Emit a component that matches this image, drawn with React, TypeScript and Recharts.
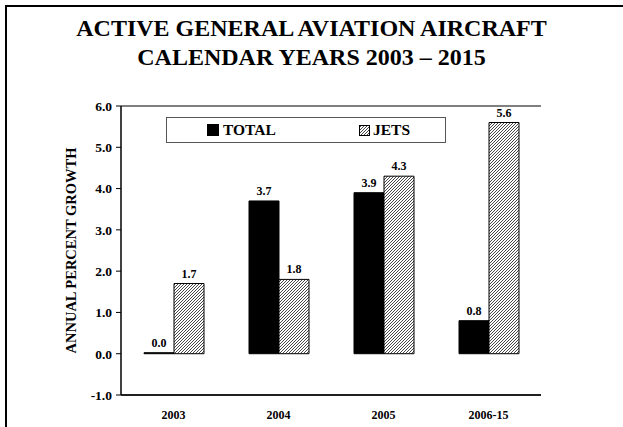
import React from 'react';
import { BarChart, Bar, XAxis, YAxis, CartesianGrid, LabelList } from 'recharts';

const categories = ['2003', '2004', '2005', '2006-15'];
const totalValues = [0.0, 3.7, 3.9, 0.8];
const jetsValues = [1.7, 1.8, 4.3, 5.6];
const yTicks = [-1, 0, 1, 2, 3, 4, 5, 6];
const seriesNames = ['TOTAL', 'JETS'];
const titleLines = ['ACTIVE GENERAL AVIATION AIRCRAFT', 'CALENDAR YEARS 2003 \u2013 2015'];
const yAxisTitle = 'ANNUAL PERCENT GROWTH';

const data = categories.map((c, i) => ({ name: c, total: totalValues[i], jets: jetsValues[i] }));

const FONT = '"Liberation Serif", "Times New Roman", serif';

const YLabel = (props: any) => {
  const vb = props.viewBox || {};
  const cx = 71;
  const cy = (vb.y || 0) + (vb.height || 0) / 2;
  return (
    <text
      x={cx}
      y={cy}
      transform={`rotate(-90, ${cx}, ${cy})`}
      textAnchor="middle"
      dominantBaseline="central"
      fontFamily={FONT}
      fontWeight="bold"
      fontSize={14.5}
      fill="#000"
    >
      {yAxisTitle}
    </text>
  );
};

const HatchDefs = ({ id }: { id: string }) => (
  <defs>
    <pattern id={id} patternUnits="userSpaceOnUse" width="3" height="3">
      <rect width="3" height="3" fill="#fff" />
      <path d="M-1,1 l2,-2 M0,3 l3,-3 M2,4 l2,-2" stroke="#333" strokeWidth="0.9" />
    </pattern>
  </defs>
);

const ValueLabel = (props: any) => {
  const { x, y, width, value } = props;
  if (value === undefined || value === null) return null;
  return (
    <text
      x={x + width / 2}
      y={y - 6}
      textAnchor="middle"
      fontFamily={FONT}
      fontWeight="bold"
      fontSize={12}
      fill="#000"
    >
      {Number(value).toFixed(1)}
    </text>
  );
};

export default function App() {
  return (
    <div
      style={{
        position: 'absolute',
        left: 0,
        top: 0,
        width: 623,
        height: 427,
        background: '#fff',
        overflow: 'hidden',
        fontFamily: FONT,
      }}
    >
      <div
        style={{
          position: 'absolute',
          left: 5,
          top: 5,
          width: 640,
          height: 440,
          borderLeft: '2px solid #000',
          borderTop: '2px solid #000',
        }}
      />
      <div
        style={{
          position: 'absolute',
          left: 0,
          top: 14,
          width: 623,
          textAlign: 'center',
          fontWeight: 'bold',
          fontSize: 24,
          lineHeight: '29px',
          color: '#000',
        }}
      >
        {titleLines.map((t) => (
          <div key={t}>{t}</div>
        ))}
      </div>
      <div style={{ position: 'absolute', left: 0, top: 0 }}>
        <BarChart
          width={623}
          height={427}
          data={data}
          margin={{ top: 106, right: 82, left: 61, bottom: 7 }}
          barGap={0}
          barSize={30}
        >
          <HatchDefs id="hatchJets" />
          <CartesianGrid vertical={false} stroke="#000" strokeWidth={1} />
          <XAxis
            dataKey="name"
            tickLine={false}
            axisLine={{ stroke: '#000', strokeWidth: 1.5 }}
            height={25}
            tickSize={6}
            tickMargin={9}
            tick={{ fontFamily: FONT, fontWeight: 'bold', fontSize: 12, fill: '#000' }}
          />
          <YAxis
            yAxisId="left"
            domain={[-1, 6]}
            ticks={yTicks}
            interval={0}
            width={60}
            tickSize={5}
            tickMargin={4}
            tickLine={{ stroke: '#000' }}
            axisLine={{ stroke: '#000', strokeWidth: 1.5 }}
            tickFormatter={(v: number) => v.toFixed(1)}
            tick={{ fontFamily: FONT, fontWeight: 'bold', fontSize: 13.5, fill: '#000' }}
            label={<YLabel />}
          />
          <YAxis
            yAxisId="right"
            orientation="right"
            domain={[-1, 6]}
            width={0}
            tick={false}
            tickLine={false}
            axisLine={{ stroke: '#888', strokeWidth: 1.5 }}
          />
          <Bar
            yAxisId="left"
            dataKey="total"
            name={seriesNames[0]}
            fill="#000"
            stroke="#000"
            strokeWidth={1}
            minPointSize={1}
            isAnimationActive={false}
          >
            <LabelList dataKey="total" content={<ValueLabel />} />
          </Bar>
          <Bar
            yAxisId="left"
            dataKey="jets"
            name={seriesNames[1]}
            fill="url(#hatchJets)"
            stroke="#000"
            strokeWidth={1}
            isAnimationActive={false}
          >
            <LabelList dataKey="jets" content={<ValueLabel />} />
          </Bar>
        </BarChart>
      </div>
      <div
        style={{
          position: 'absolute',
          left: 166,
          top: 117,
          width: 280,
          height: 26,
          boxSizing: 'border-box',
          border: '1px solid #555',
          background: '#fff',
          fontWeight: 'bold',
          fontSize: 15.5,
          color: '#000',
        }}
      >
        <div style={{ position: 'absolute', left: 40, top: 3, display: 'flex', alignItems: 'center' }}>
          <svg width={12} height={12} style={{ marginRight: 4 }}>
            <rect x={0} y={0} width={12} height={12} fill="#000" />
          </svg>
          <span>{seriesNames[0]}</span>
        </div>
        <div style={{ position: 'absolute', left: 192, top: 3, display: 'flex', alignItems: 'center' }}>
          <svg width={11} height={11} style={{ marginRight: 3 }}>
            <HatchDefs id="hatchLegend" />
            <rect x={0.5} y={0.5} width={10} height={10} fill="url(#hatchLegend)" stroke="#000" strokeWidth={1} />
          </svg>
          <span>{seriesNames[1]}</span>
        </div>
      </div>
    </div>
  );
}
